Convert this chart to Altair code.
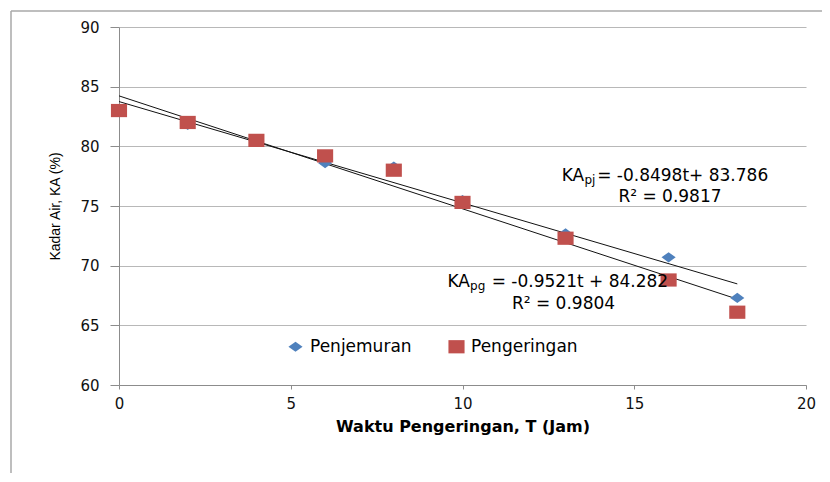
import altair as alt
import pandas as pd

# ---- data ----
t_values = [0, 2, 4, 6, 8, 10, 13, 16, 18]
penjemuran = [83.0, 81.8, 80.5, 78.6, 78.3, 75.5, 72.7, 70.7, 67.3]
pengeringan = [83.0, 82.0, 80.5, 79.2, 78.0, 75.3, 72.3, 68.8, 66.1]
series_names = ["Penjemuran", "Pengeringan"]
series_colors = ["#4F81BD", "#C0504D"]
x_ticks = [0, 5, 10, 15, 20]
y_ticks = [60, 65, 70, 75, 80, 85, 90]

# equation annotations (anchor in data units)
eq_main = ["KA", "KA"]
eq_main_t = [12.89, 9.56]
eq_main_ka = [77.55, 68.65]
eq_sub = ["pj", "pg"]
eq_sub_t = [13.55, 10.22]
eq_rest = ["= -0.8498t+ 83.786", "= -0.9521t + 84.282"]
eq_rest_t = [13.92, 10.85]
r2_text = ["R² = 0.9817", "R² = 0.9804"]
r2_t = [16.04, 12.94]
r2_ka = [75.72, 66.8]

rows = []
for name, vals in zip(series_names, [penjemuran, pengeringan]):
    for t, v in zip(t_values, vals):
        rows.append({"t": t, "KA": v, "series": name})
df = pd.DataFrame(rows)

ann_main = pd.DataFrame({"t": eq_main_t, "KA": eq_main_ka, "text": eq_main})
ann_sub = pd.DataFrame({"t": eq_sub_t, "KA": eq_main_ka, "text": eq_sub})
ann_rest = pd.DataFrame({"t": eq_rest_t, "KA": eq_main_ka, "text": eq_rest})
ann_r2 = pd.DataFrame({"t": r2_t, "KA": r2_ka, "text": r2_text})

FONT = "DejaVu Sans"
diamond = "M-1,0L0,-0.72L1,0L0,0.72Z"
square = "M-1,-0.82H1V0.82H-1Z"

x_enc = alt.X("t:Q", scale=alt.Scale(domain=[0, 20], nice=False, zero=False),
              axis=alt.Axis(values=x_ticks, title="Waktu Pengeringan, T (Jam)",
                            grid=False, tickSize=4, labelPadding=7,
                            labelFlush=False, titlePadding=7, format="d"))
y_enc = alt.Y("KA:Q", scale=alt.Scale(domain=[60, 90], nice=False, zero=False),
              axis=alt.Axis(values=y_ticks, title="Kadar Air, KA (%)",
                            grid=True, tickSize=9, labelPadding=11, format="d",
                            labelFlush=False,
                            titleX=-64, titleY=179, titleAngle=-90,
                            titleBaseline="middle",
                            titleFont="Liberation Sans",
                            titleFontSize=14, titleFontWeight="normal"))

legend_cfg = dict(title=None, orient="none", legendX=168, legendY=311,
                  direction="horizontal", columnPadding=36, padding=0,
                  symbolSize=120, labelFontSize=17, labelFont=FONT,
                  labelColor="#000", labelOffset=6, symbolStrokeWidth=0)

points = alt.Chart(df).mark_point(filled=True, opacity=1, strokeWidth=0).encode(
    x=x_enc,
    y=y_enc,
    color=alt.Color("series:N",
                    scale=alt.Scale(domain=series_names, range=series_colors),
                    legend=alt.Legend(**legend_cfg)),
    shape=alt.Shape("series:N",
                    scale=alt.Scale(domain=series_names, range=[diamond, square]),
                    legend=alt.Legend(**legend_cfg)),
    size=alt.Size("series:N",
                  scale=alt.Scale(domain=series_names, range=[200, 260]),
                  legend=None),
)

trend = alt.Chart(df).transform_regression(
    "t", "KA", groupby=["series"]
).mark_line(color="#111", strokeWidth=1).encode(
    x="t:Q", y="KA:Q", detail="series:N"
)

main_txt = alt.Chart(ann_main).mark_text(
    align="left", baseline="middle", font=FONT, fontSize=17, color="#000"
).encode(x="t:Q", y="KA:Q", text="text:N")
sub_txt = alt.Chart(ann_sub).mark_text(
    align="left", baseline="middle", font=FONT, fontSize=12, color="#000", dy=4
).encode(x="t:Q", y="KA:Q", text="text:N")
rest_txt = alt.Chart(ann_rest).mark_text(
    align="left", baseline="middle", font=FONT, fontSize=17, color="#000"
).encode(x="t:Q", y="KA:Q", text="text:N")
r2_txt = alt.Chart(ann_r2).mark_text(
    align="center", baseline="middle", font=FONT, fontSize=17, color="#000"
).encode(x="t:Q", y="KA:Q", text="text:N")

frame_src = alt.Data(values=[{"k": 1}])
frame_left = alt.Chart(frame_src).mark_rule(color="#a8a8a8", strokeWidth=1.5).encode(
    x=alt.value(-108), y=alt.value(-16), y2=alt.value(480))
frame_top = alt.Chart(frame_src).mark_rule(color="#a8a8a8", strokeWidth=1.5).encode(
    x=alt.value(-108), x2=alt.value(720), y=alt.value(-16))

chart = alt.layer(
    frame_left, frame_top, trend, points, main_txt, sub_txt, rest_txt, r2_txt
).properties(
    width=687, height=358,
    autosize=alt.AutoSizeParams(type="none"),
    padding={"left": 111, "top": 19, "right": 16, "bottom": 88},
).configure_view(
    stroke=None
).configure_axis(
    labelFont=FONT, labelFontSize=15, labelColor="#111",
    titleFont=FONT, titleFontSize=16, titleFontWeight="bold", titleColor="#000",
    domainColor="#8c8c8c", tickColor="#8c8c8c", gridColor="#b8b8b8",
    domainWidth=1, tickWidth=1, gridWidth=1.2,
)

chart.save("out.html", embed_options={"renderer": "svg", "actions": False})
